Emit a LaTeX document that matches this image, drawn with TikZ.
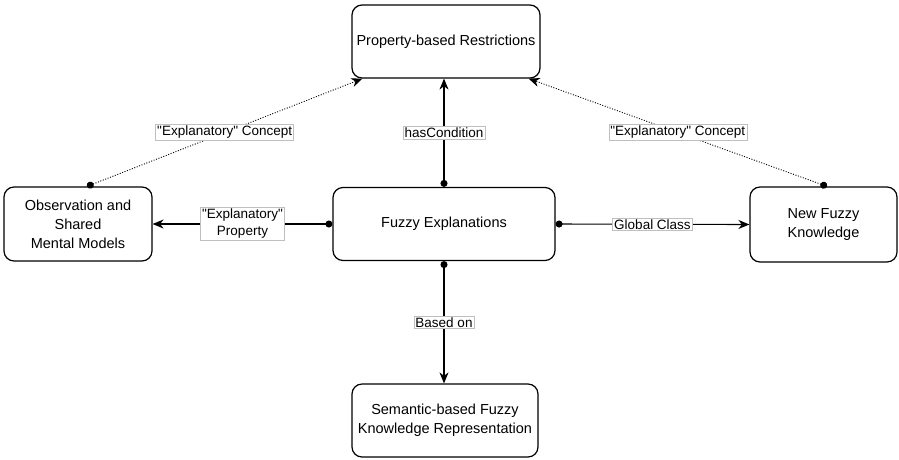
\documentclass[tikz,border=0pt]{standalone}
\usepackage{fontspec}
\setmainfont{Liberation Sans}[Ligatures=TeXOff]
\usetikzlibrary{arrows.meta,calc}
\begin{document}
\begin{tikzpicture}[x=1pt,y=-1pt,
  box/.style={draw=black, line width=1.2pt, rounded corners=10pt, fill=white, align=center, inner sep=0pt, font=\fontsize{14.5}{19}\selectfont},
  lbl/.style={draw=black!25, solid, line width=0.5pt, fill=white, inner sep=1.5pt, align=center, font=\fontsize{13.5}{17}\selectfont},
  conn/.style={line width=1.1pt, {Circle[length=7pt]}-{Stealth[length=11pt,width=9pt,inset=3.5pt]}},
  dconn/.style={line width=0.9pt, dash pattern=on 1pt off 1.6pt, {Circle[length=7pt]}-{Stealth[length=11pt,width=9pt,inset=3.5pt]}}
]
\useasboundingbox (0,0) rectangle (899,459);
\node[box, minimum width=188pt, minimum height=73pt] (top) at (446,41.5) {Property-based Restrictions};
\node[box, minimum width=222pt, minimum height=73pt] (center) at (444,224) {Fuzzy Explanations};
\node[box, minimum width=148pt, minimum height=74pt] (left) at (78,224) {Observation and\\Shared\\Mental Models};
\node[box, minimum width=147pt, minimum height=75pt] (right) at (823.5,224.5) {New Fuzzy\\Knowledge};
\node[box, minimum width=186pt, minimum height=73pt] (bottom) at (445,420.5) {Semantic-based Fuzzy\\Knowledge Representation};

\coordinate (ls) at ($(left.north)+(9,0)$);
\coordinate (rs) at ($(right.north)+(3.5,0)$);
\coordinate (tl) at ($(top.south west)+(11,0)$);
\coordinate (tr) at ($(top.south east)+(-12,0)$);
\coordinate (tc) at (center.north |- top.south);
\coordinate (bc) at (center.south |- bottom.north);

\draw[dconn] (ls) -- node[lbl]{"Explanatory" Concept} (tl);
\draw[dconn] (rs) -- node[lbl]{"Explanatory" Concept} (tr);
\draw[conn] (center.north) -- node[lbl]{hasCondition} (tc);
\draw[conn] (center.west) -- node[lbl]{"Explanatory"\\Property} (left.east);
\draw[conn] (center.east) -- node[lbl]{Global Class} (right.west);
\draw[conn] (center.south) -- node[lbl]{Based on} (bc);
\end{tikzpicture}
\end{document}
